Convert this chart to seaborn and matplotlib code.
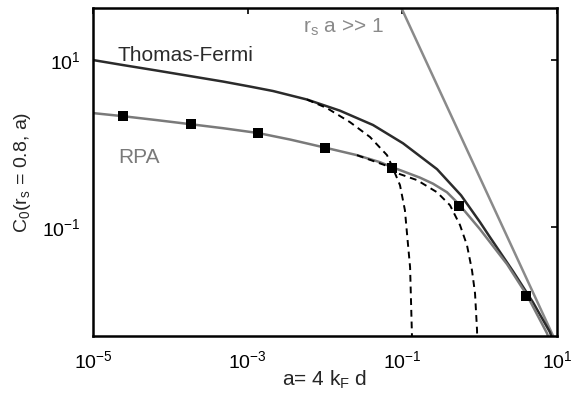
import matplotlib
matplotlib.use("Agg")
import matplotlib.pyplot as plt
import seaborn as sns

# values (a, C0)
tf_a = [1e-5, 2.44e-5, 6.73e-5, 1.80e-4, 4.80e-4, 1.07e-3, 2.13e-3, 5.85e-3, 0.0156, 0.0418,
        0.102, 0.281, 0.574, 1.01, 1.36, 2.70, 4.90, 8.13, 8.61]
tf_c = [10.0, 8.71, 7.48, 6.43, 5.53, 4.82, 4.26, 3.37, 2.48, 1.67,
        1.01, 0.495, 0.241, 0.115, 0.0759, 0.0297, 0.0126, 0.00553, 0.0047]

rpa_a = [1e-5, 2.44e-5, 6.73e-5, 1.80e-4, 4.80e-4, 1.36e-3, 3.53e-3, 0.0100, 0.0259, 0.0514,
         0.0736, 0.169, 0.249, 0.378, 0.541, 1.01, 2.26, 4.10, 7.43, 7.9]
rpa_c = [2.32, 2.13, 1.91, 1.71, 1.53, 1.34, 1.12, 0.896, 0.728, 0.600,
         0.524, 0.392, 0.332, 0.262, 0.188, 0.0946, 0.0361, 0.0153, 0.00538, 0.0045]

mark_a = [2.44e-5, 1.85e-4, 1.36e-3, 0.0100, 0.0736, 0.541, 3.97]
mark_c = [2.13, 1.71, 1.34, 0.895, 0.515, 0.178, 0.0149]

dash1_a = [5.85e-3, 0.0106, 0.0210, 0.0382, 0.0634, 0.0736, 0.0933, 0.108, 0.118, 0.126, 0.133, 0.134]
dash1_c = [3.37, 2.66, 1.81, 1.20, 0.728, 0.538, 0.318, 0.160, 0.0643, 0.0332, 0.00538, 0.004]

dash2_a = [0.0259, 0.0736, 0.0853, 0.155, 0.281, 0.414, 0.557, 0.686, 0.796, 0.871, 0.925, 0.93]
dash2_c = [0.728, 0.515, 0.444, 0.366, 0.262, 0.183, 0.106, 0.0608, 0.0305, 0.0162, 0.00583, 0.004]

big_a = [0.09, 9.5]
big_c = [49.0, 0.0044]

sns.set_theme(style="white")
plt.rcParams['font.family'] = ['Liberation Sans', 'DejaVu Sans']
plt.rcParams['mathtext.fontset'] = 'custom'
plt.rcParams['mathtext.rm'] = 'Liberation Sans'
plt.rcParams['mathtext.it'] = 'Liberation Sans:italic'

fig = plt.figure(figsize=(5.81, 3.97), dpi=100)
ax = fig.add_axes([0.160, 0.1537, 0.7987, 0.8263])
ax.set(xscale='log', yscale='log')

dash = (0, (3.5, 2.5))
sns.lineplot(x=big_a, y=big_c, ax=ax, color='#8a8a8a', linewidth=1.8, sort=False, estimator=None)
sns.lineplot(x=tf_a, y=tf_c, ax=ax, color='#2b2b2b', linewidth=1.8, sort=False, estimator=None)
sns.lineplot(x=rpa_a, y=rpa_c, ax=ax, color='#7a7a7a', linewidth=1.8, sort=False, estimator=None)
sns.lineplot(x=dash1_a, y=dash1_c, ax=ax, color='black', linewidth=1.4, sort=False,
             estimator=None, linestyle=dash)
sns.lineplot(x=dash2_a, y=dash2_c, ax=ax, color='black', linewidth=1.4, sort=False,
             estimator=None, linestyle=dash)
sns.scatterplot(x=mark_a, y=mark_c, ax=ax, marker='s', color='black', s=45,
                edgecolor='black', linewidth=0, zorder=5)

ax.set_xlim(1e-5, 10)
ax.set_ylim(5e-3, 42)
ax.set_xticks([1e-5, 1e-3, 1e-1, 1e1])
ax.set_yticks([1e-1, 1e1])
ax.minorticks_off()
ax.tick_params(direction='in', length=4, width=1.2, top=True, right=True,
               labelsize=14, colors='black')
ax.tick_params(axis='x', pad=10)
ax.tick_params(axis='y', pad=9)
for s in ax.spines.values():
    s.set_linewidth(1.8)
    s.set_color('black')

ax.set_xlabel('a= 4 k$_\\mathrm{F}$ d', fontsize=15, labelpad=-2)
ax.set_ylabel('C$_\\mathrm{0}$(r$_\\mathrm{s}$ = 0.8, a)', fontsize=14, labelpad=6)

ax.text(2.1e-5, 9.8, 'Thomas-Fermi', color='#2b2b2b', fontsize=15, va='baseline')
ax.text(2.1e-5, 0.583, 'RPA', color='#7a7a7a', fontsize=15, va='baseline')
ax.text(5.2e-3, 21, 'r$_\\mathrm{s}$ a >> 1', color='#8a8a8a', fontsize=15, va='baseline')

fig.savefig('out.png', dpi=100)
